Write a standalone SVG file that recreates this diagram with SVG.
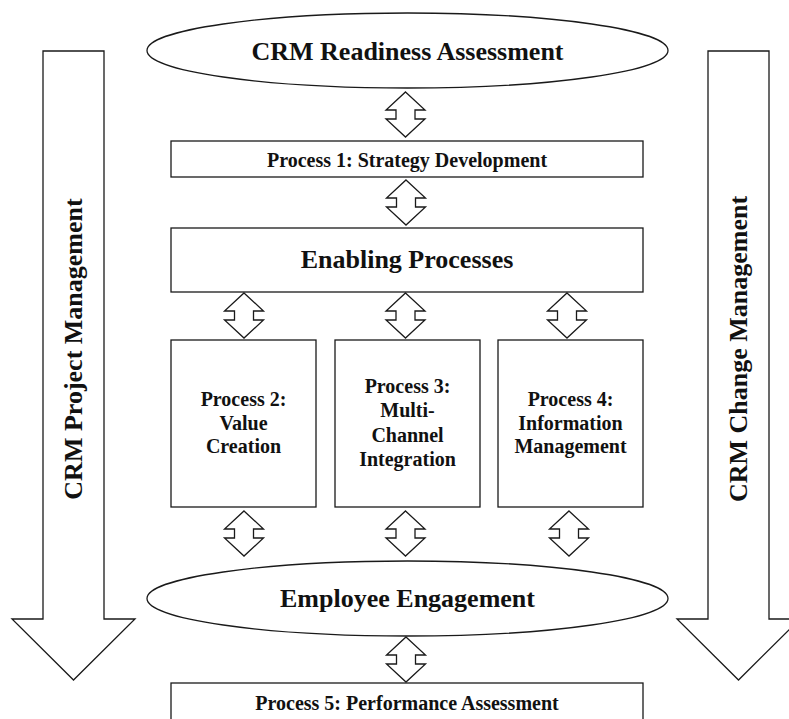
<svg xmlns="http://www.w3.org/2000/svg" xmlns:xlink="http://www.w3.org/1999/xlink" width="789" height="719" viewBox="0 0 789 719">
  <style>
    .shape { fill: #ffffff; stroke: #1a1a1a; stroke-width: 1.3; }
    .t { font-family: "Liberation Serif", "Times New Roman", serif; font-weight: bold; fill: #111111; text-anchor: middle; }
    .big { font-size: 26px; }
    .mid { font-size: 20px; }
  </style>
  <defs>
    <path id="dbl" class="shape" d="M0,0 L19.5,18 H9.5 V27 H19.5 L0,45 L-19.5,27 H-9.5 V18 H-19.5 Z"/>
  </defs>
  <rect width="789" height="719" fill="#ffffff"/>

  <g id="project-management">
    <path class="shape" d="M43,51 H104 V619 H135 L73.5,680 L12,619 H43 Z"/>
    <text class="t big" transform="translate(82,349) rotate(-90)" x="0" y="0">CRM Project Management</text>
  </g>

  <g id="change-management">
    <path class="shape" d="M708,51 H769 V619 H800 L738.5,680 L677,619 H708 Z"/>
    <text class="t big" transform="translate(747,349) rotate(-90)" x="0" y="0">CRM Change Management</text>
  </g>

  <g id="readiness">
    <ellipse class="shape" cx="407.5" cy="50.5" rx="260.5" ry="37.5"/>
    <text class="t big" x="407.5" y="60">CRM Readiness Assessment</text>
  </g>

  <g id="process1">
    <rect class="shape" x="171" y="141" width="472" height="36"/>
    <text class="t mid" x="407" y="167">Process 1: Strategy Development</text>
  </g>

  <g id="enabling">
    <rect class="shape" x="171" y="228" width="472" height="64"/>
    <text class="t big" x="407" y="268">Enabling Processes</text>
  </g>

  <g id="process2">
    <rect class="shape" x="171" y="340" width="145" height="167"/>
    <text class="t mid" x="243.5" y="406">Process 2:</text>
    <text class="t mid" x="243.5" y="429.5">Value</text>
    <text class="t mid" x="243.5" y="453">Creation</text>
  </g>

  <g id="process3">
    <rect class="shape" x="335" y="340" width="145" height="167"/>
    <text class="t mid" x="407.5" y="393">Process 3:</text>
    <text class="t mid" x="407.5" y="417">Multi-</text>
    <text class="t mid" x="407.5" y="441.5">Channel</text>
    <text class="t mid" x="407.5" y="466">Integration</text>
  </g>

  <g id="process4">
    <rect class="shape" x="498" y="340" width="145" height="167"/>
    <text class="t mid" x="570.5" y="406">Process 4:</text>
    <text class="t mid" x="570.5" y="429.5">Information</text>
    <text class="t mid" x="570.5" y="453">Management</text>
  </g>

  <g id="engagement">
    <ellipse class="shape" cx="407.5" cy="598.5" rx="260.5" ry="37.5"/>
    <text class="t big" x="407.5" y="607">Employee Engagement</text>
  </g>

  <g id="process5">
    <rect class="shape" x="171" y="683" width="472" height="50"/>
    <text class="t mid" x="407" y="710">Process 5: Performance Assessment</text>
  </g>

  <g id="connectors">
    <use xlink:href="#dbl" href="#dbl" transform="translate(405.5,92)"/>
    <use xlink:href="#dbl" href="#dbl" transform="translate(406,180)"/>
    <use xlink:href="#dbl" href="#dbl" transform="translate(244,293)"/>
    <use xlink:href="#dbl" href="#dbl" transform="translate(405.5,293)"/>
    <use xlink:href="#dbl" href="#dbl" transform="translate(567,293)"/>
    <use xlink:href="#dbl" href="#dbl" transform="translate(244,511)"/>
    <use xlink:href="#dbl" href="#dbl" transform="translate(405.5,511)"/>
    <use xlink:href="#dbl" href="#dbl" transform="translate(569,511)"/>
    <use xlink:href="#dbl" href="#dbl" transform="translate(406,637)"/>
  </g>
</svg>
